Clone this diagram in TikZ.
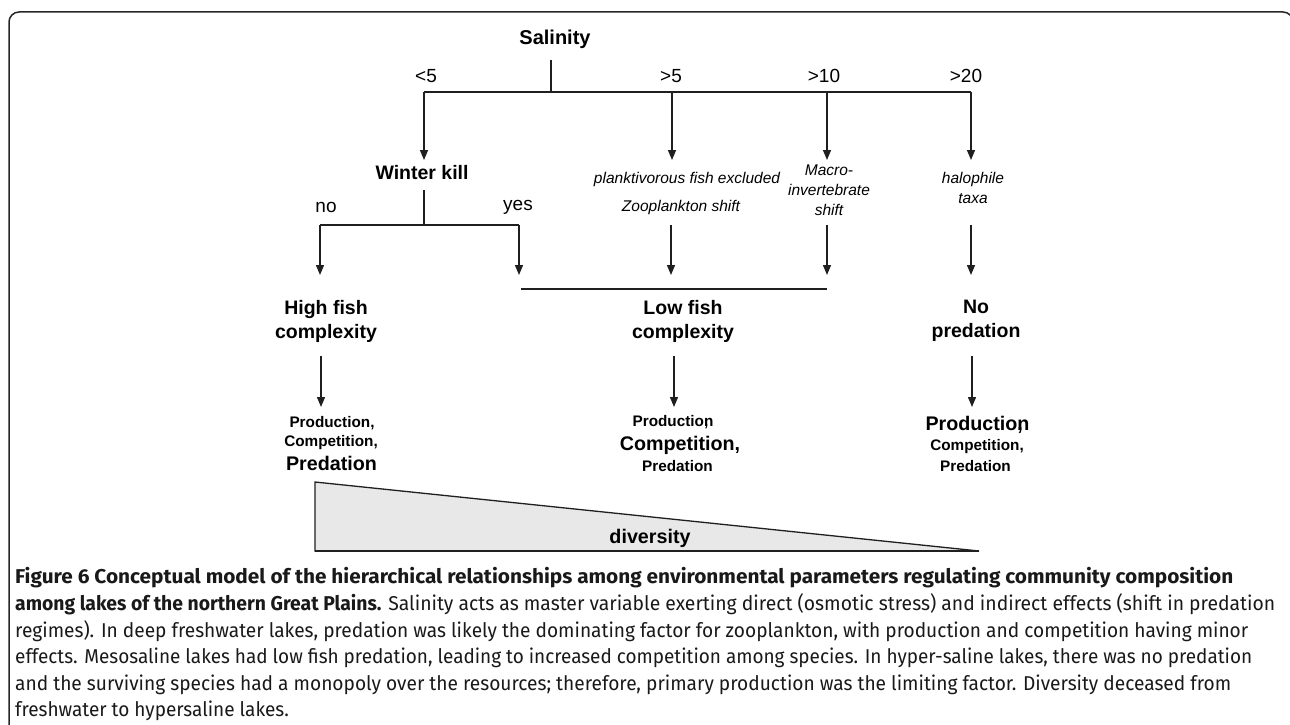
\documentclass[tikz,border=0pt]{standalone}
\usepackage{fontspec}
\usepackage{graphicx}
\setmainfont{Liberation Sans}
\newfontfamily\capfont[FakeStretch=0.95]{Fira Sans}
\usetikzlibrary{arrows.meta}
\newcommand\fitw[2]{\resizebox{#1pt}{\height}{#2}}
\begin{document}
\begin{tikzpicture}[x=1pt,y=-1pt,
  ln/.style={draw=black!88, line width=1.3pt},
  arr/.style={ln, -{Triangle[length=10pt,width=8pt]}},
  big/.style={font=\fontsize{19.5}{24}\selectfont\bfseries, align=center, inner sep=0pt},
  num/.style={font=\fontsize{19}{22}\selectfont, inner sep=0pt},
  ital/.style={font=\fontsize{15.5}{20}\selectfont\itshape, align=center, inner sep=0pt},
  sm/.style={font=\fontsize{15.3}{18}\selectfont\bfseries, inner sep=0pt},
  lg/.style={font=\fontsize{19.7}{23}\selectfont\bfseries, inner sep=0pt},
  captxt/.style={anchor=base west, inner sep=0pt, text=black!90, font=\capfont\fontsize{20}{25}\selectfont}
]
\useasboundingbox (0,0) rectangle (1290,725);
% frame
\draw[line width=1.5pt, black!85, rounded corners=10pt] (9,730) -- (9,12) -- (1293,12) -- (1293,730);

% level 0
\node[big, font=\fontsize{20}{24}\selectfont\bfseries] (sal) at (555,39) {Salinity};
\coordinate (b0) at (551,60);
\coordinate (b1) at (551,92);
\coordinate (h1L) at (424,92);
\coordinate (h1a) at (672,92);
\coordinate (h1b) at (827,92);
\coordinate (h1R) at (971,92);
\draw[ln] (b0) -- (b1);
\draw[ln] (h1L) -- (h1R);
\node[num] (l5) at (426,76) {<5};
\node[num] (g5) at (671,76) {>5};
\node[num] (g10) at (824,76) {>10};
\node[num] (g20) at (966,76) {>20};

% level 1 tips
\coordinate (t1) at (424,160);
\coordinate (t2) at (672,160);
\coordinate (t3) at (827,160);
\coordinate (t4) at (971,160);
\draw[arr] (h1L) -- (t1);
\draw[arr] (h1a) -- (t2);
\draw[arr] (h1b) -- (t3);
\draw[arr] (h1R) -- (t4);

\node[big] (wk) at (422,173) {Winter kill};
\node[ital] (pfe) at (687,179) {planktivorous fish excluded};
\node[ital] (zs) at (681,207) {Zooplankton shift};
\node[ital] (mis) at (829,190.5) {Macro-\\invertebrate\\shift};
\node[ital] (hal) at (973,188) {halophile\\taxa};

% winter kill branch
\coordinate (w0) at (424,190);
\coordinate (w1) at (424,225);
\coordinate (w2L) at (320,225);
\coordinate (w2R) at (519,225);
\draw[ln] (w0) -- (w1);
\draw[ln] (w2L) -- (w2R);
\node[num] (no) at (326,207) {no};
\node[num] (yes) at (518,207) {yes};

% level 2 arrows
\coordinate (s2) at (671,225);
\coordinate (s3) at (827,225);
\coordinate (s4) at (971,225);
\coordinate (u1) at (320,275);
\coordinate (u2) at (519,275);
\coordinate (u3) at (671,275);
\coordinate (u4) at (827,275);
\coordinate (u5) at (971,275);
\draw[arr] (w2L) -- (u1);
\draw[arr] (w2R) -- (u2);
\draw[arr] (s2) -- (u3);
\draw[arr] (s3) -- (u4);
\draw[arr] (s4) -- (u5);

\coordinate (h3L) at (521,289);
\coordinate (h3R) at (827,289);
\draw[ln] (h3L) -- (h3R);

% level 3
\node[big] (hfc) at (326,321) {High fish\\complexity};
\node[big] (lfc) at (683,321) {Low fish\\complexity};
\node[big] (np) at (976,321) {No\\predation};

\coordinate (v1) at (321,356);
\coordinate (v2) at (674,356);
\coordinate (v3) at (972,356);
\coordinate (x1) at (321,407);
\coordinate (x2) at (674,407);
\coordinate (x3) at (972,407);
\draw[arr] (v1) -- (x1);
\draw[arr] (v2) -- (x2);
\draw[arr] (v3) -- (x3);

% outcomes
\node[sm] (p1) at (332,423) {Production,};
\node[sm] (c1) at (331,443) {Competition,};
\node[lg] (d1) at (331.5,463) {Predation};

\node[sm] (p2) at (673,422) {Productio\rlap{,}n};
\node[lg] (c2) at (680,445) {Competition,};
\node[sm] (d2) at (677.5,466) {Predation};

\node[lg] (p3) at (977.5,425) {Productio\rlap{,}n};
\node[sm] (c3) at (977,447) {Competition,};
\node[sm] (d3) at (975.5,466) {Predation};

% diversity wedge
\coordinate (w_a) at (315,482);
\coordinate (w_b) at (315,551);
\coordinate (w_c) at (979,551);
\draw[ln, fill=black!9, line join=miter] (w_a) -- (w_c) -- (w_b) -- cycle;
\draw[line width=1.8pt, black!88] (w_b) -- (w_c);
\node[lg] (div) at (650,538) {diversity};

% caption
\node[captxt] (cap1) at (15,583) {\fitw{1218}{\bfseries Figure 6 Conceptual model of the hierarchical relationships among environmental parameters regulating community composition}};
\node[captxt] (cap2) at (15,610) {\fitw{1260}{\textbf{among lakes of the northern Great Plains.} Salinity acts as master variable exerting direct (osmotic stress) and indirect effects (shift in predation}};
\node[captxt] (cap3) at (15,637) {\fitw{1233}{regimes). In deep freshwater lakes, predation was likely the dominating factor for zooplankton, with production and competition having minor}};
\node[captxt] (cap4) at (15,663) {\fitw{1237}{effects. Mesosaline lakes had low fish predation, leading to increased competition among species. In hyper-saline lakes, there was no predation}};
\node[captxt] (cap5) at (15,690) {\fitw{1216}{and the surviving species had a monopoly over the resources; therefore, primary production was the limiting factor. Diversity deceased from}};
\node[captxt] (cap6) at (15,716) {freshwater to hypersaline lakes.};
\end{tikzpicture}
\end{document}
